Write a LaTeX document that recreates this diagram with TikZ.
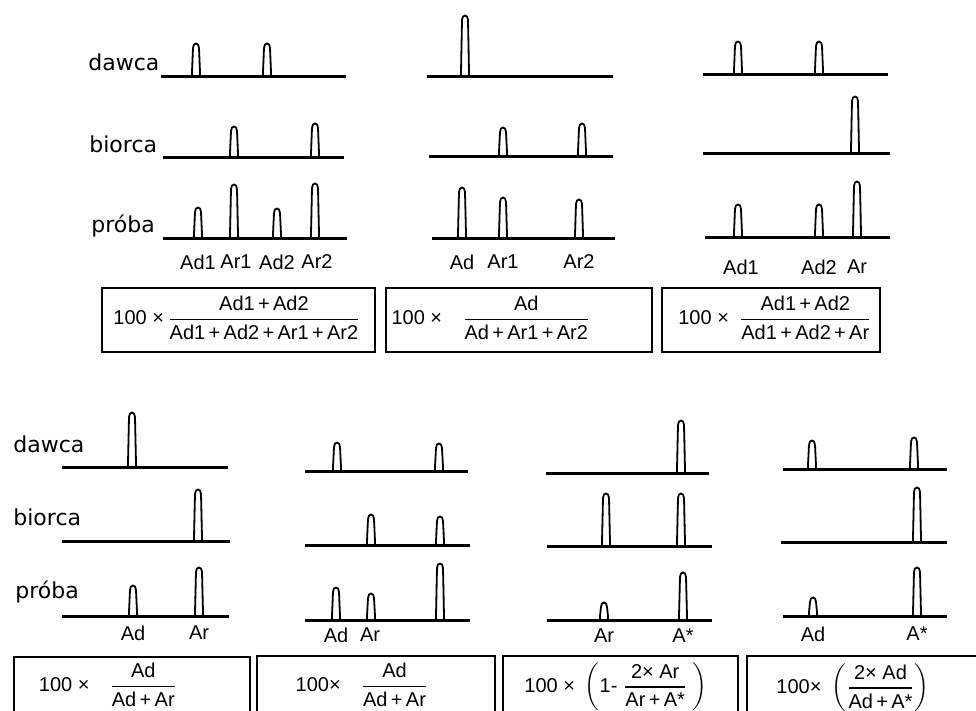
\documentclass[tikz,border=0pt]{standalone}
\usepackage{amsmath}
\usepackage{fontspec}
\setmainfont{Liberation Sans}
\newfontfamily\rowfont{DejaVu Sans}
\usepackage{tikz}

\newcommand{\ffrac}[2]{\genfrac{}{}{0.8pt}{0}{\text{#1}}{\text{#2}}}
\newcommand{\plus}{\,+\,}
% x, base line, top of the peak
\newcommand{\drawpeak}[3]{%
  \draw[peak] (#1-8,#2) .. controls (#1-4,#2) .. (#1-4,#2-5) -- (#1-3,#3+5)
    .. controls (#1-3,#3-1) and (#1+3,#3-1) .. (#1+3,#3+5) -- (#1+4,#2-5)
    .. controls (#1+4,#2) .. (#1+8,#2);}

\begin{document}
\begin{tikzpicture}[x=0.5pt, y=-0.5pt,
    every node/.style={font=\fontsize{10}{12}\selectfont, inner sep=1pt},
    base/.style={line width=1.5pt},
    peak/.style={line width=0.9pt, line join=round},
    rowlab/.style={font=\rowfont\fontsize{11}{13}\selectfont},
    fbox/.style={draw, line width=1.2pt, minimum height=32pt}]
	\useasboundingbox (0,0) rectangle (976,711);
	\clip (0,0) rectangle (976,711);
	% top row
	\node[rowlab, anchor=base west] (dawca1) at (86,71) {dawca};
	\node[rowlab, anchor=base west] (biorca1) at (87,153) {biorca};
	\node[rowlab, anchor=base west] (proba1) at (89,233) {próba};
	\draw[base] (161,77) -- (346,77);
	\drawpeak{196}{77}{43}
	\drawpeak{267}{77}{43}
	\draw[base] (163,158) -- (344,158);
	\drawpeak{234}{158}{126}
	\drawpeak{315}{158}{123}
	\draw[base] (163,239) -- (347,239);
	\drawpeak{198}{239}{207}
	\drawpeak{234}{239}{184}
	\drawpeak{277}{239}{208}
	\drawpeak{315}{239}{183}
	\node (ad1a) at (198,262) {Ad1};
	\node (ar1a) at (236,262) {Ar1};
	\node (ad2a) at (277,262) {Ad2};
	\node (ar2a) at (317,262) {Ar2};
	\draw[base] (427,77) -- (613,77);
	\drawpeak{465}{77}{15}
	\draw[base] (429,157) -- (613,157);
	\drawpeak{503}{157}{127}
	\drawpeak{582}{157}{123}
	\draw[base] (432,239) -- (615,239);
	\drawpeak{462}{239}{187}
	\drawpeak{503}{239}{197}
	\drawpeak{579}{239}{199}
	\node (adb) at (462,262) {Ad};
	\node (ar1b) at (503,262) {Ar1};
	\node (ar2b) at (579,262) {Ar2};
	\draw[base] (703,75) -- (888,75);
	\drawpeak{738}{75}{41}
	\drawpeak{819}{75}{41}
	\draw[base] (703,154) -- (890,154);
	\drawpeak{855}{154}{96}
	\draw[base] (705,238) -- (890,238);
	\drawpeak{738}{238}{204}
	\drawpeak{819}{238}{204}
	\drawpeak{857}{238}{181}
	\node (ad1c) at (741,267) {Ad1};
	\node (ad2c) at (819,267) {Ad2};
	\node (arc) at (857,267) {Ar};
	\node[fbox, minimum width=136.5pt] (box1) at (238.5,320) {};
	\node[fbox, minimum width=133pt] (box2) at (519,320) {};
	\node[fbox, minimum width=109pt] (box3) at (771,320) {};
	\node (f1) at (237,318) {100 ×\,$\ffrac{Ad1\plus Ad2}{Ad1\plus Ad2\plus Ar1\plus Ar2}$};
	\node (f2) at (491,318) {100 ×\quad $\ffrac{Ad}{Ad\plus Ar1\plus Ar2}$};
	\node (f3) at (775,318) {100 ×\enspace $\ffrac{Ad1\plus Ad2}{Ad1\plus Ad2\plus Ar}$};
	% bottom row
	\node[rowlab, anchor=base west] (dawca2) at (11,453) {dawca};
	\node[rowlab, anchor=base west] (biorca2) at (11,526) {biorca};
	\node[rowlab, anchor=base west] (proba2) at (13,598) {próba};
	\draw[base] (62,468) -- (228,468);
	\drawpeak{132}{468}{412}
	\draw[base] (62,542) -- (230,542);
	\drawpeak{198}{542}{489}
	\draw[base] (62,617) -- (229,617);
	\drawpeak{133}{617}{585}
	\drawpeak{199}{617}{567}
	\node (add) at (133,633) {Ad};
	\node (ard) at (199,633) {Ar};
	\draw[base] (305,472) -- (468,472);
	\drawpeak{337}{472}{442}
	\drawpeak{439}{472}{443}
	\draw[base] (305,546) -- (470,546);
	\drawpeak{371}{546}{514}
	\drawpeak{440}{546}{516}
	\draw[base] (305,621) -- (470,621);
	\drawpeak{336}{621}{587}
	\drawpeak{371}{621}{593}
	\drawpeak{440}{621}{563}
	\node (ade) at (336,635) {Ad};
	\node (are) at (370,635) {Ar};
	\draw[base] (546,474) -- (709,474);
	\drawpeak{681}{474}{420}
	\draw[base] (547,547) -- (712,547);
	\drawpeak{606}{547}{493}
	\drawpeak{681}{547}{493}
	\draw[base] (547,621) -- (712,621);
	\drawpeak{604}{621}{602}
	\drawpeak{683}{621}{572}
	\node (arf) at (604,636) {Ar};
	\node (astf) at (683,636) {A*};
	\draw[base] (783,470) -- (947,470);
	\drawpeak{812}{470}{440}
	\drawpeak{914}{470}{437}
	\draw[base] (781,543) -- (947,543);
	\drawpeak{917}{543}{487}
	\draw[base] (783,617) -- (947,617);
	\drawpeak{813}{617}{597}
	\drawpeak{917}{617}{567}
	\node (adg) at (813,634) {Ad};
	\node (astg) at (917,634) {A*};
	\node[fbox, minimum width=118pt] (box4) at (132,689) {};
	\node[fbox, minimum width=119pt] (box5) at (376,688) {};
	\node[fbox, minimum width=117.5pt] (box6) at (620.5,688) {};
	\node[fbox, minimum width=130pt] (box7) at (877,688) {};
	\node (f4) at (108,685) {100 ×\quad $\ffrac{Ad}{Ad\plus Ar}$};
	\node (f5) at (362,685) {100×\quad $\ffrac{Ad}{Ad\plus Ar}$};
	\node (f6) at (616,687) {100 ×\enspace $\left(\text{1- }\ffrac{2× Ar}{Ar\plus A*}\ \right)$};
	\node (f7) at (853,688) {100×\enspace $\left(\ffrac{2× Ad}{Ad\plus A*}\right)$};
\end{tikzpicture}
\end{document}
